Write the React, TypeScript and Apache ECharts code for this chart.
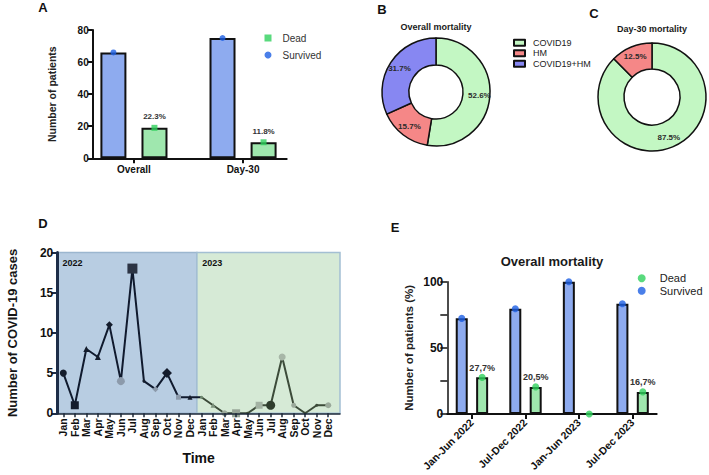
import React, { useEffect, useRef } from "react";
import * as echarts from "echarts";

const FONT = "'Liberation Sans', Arial, Helvetica, sans-serif";

// A: patient outcomes
const outcomeGroups = ["Overall", "Day-30"];
const survivedCounts = [66, 75];
const deadCounts = [19, 10];
const deadShareLabels = ["22.3%", "11.8%"];

// B / C: cause of death shares (%)
const causeNames = ["COVID19", "HM", "COVID19+HM"];
const overallMortalityShare = [52.6, 15.7, 31.7];
const day30MortalityShare = [87.5, 12.5];

// D: monthly COVID-19 cases
const monthLabels = ["Jan", "Feb", "Mar", "Apr", "May", "Jun", "Jul", "Aug", "Sep", "Oct", "Nov", "Dec"];
const cases2022 = [5, 1, 8, 7, 11, 4, 18, 4, 3, 5, 2, 2];
const cases2023 = [2, 1, 0, 0, 0, 1, 1, 7, 1, 0, 1, 1];
const yearLabels = ["2022", "2023"];

// E: overall mortality by half-year (%)
const periods = ["Jan-Jun 2022", "Jul-Dec 2022", "Jan-Jun 2023", "Jul-Dec 2023"];
const survivedPct = [72.3, 79.5, 100, 83.3];
const deadPct = [27.7, 20.5, 0, 16.7];
const deadPctLabels = ["27,7%", "20,5%", "", "16,7%"];

// colours
const BAR_BLUE = "#8eabef";
const BAR_GREEN = "#9fe7ae";
const DOT_BLUE = "#1d5fe3";
const DOT_GREEN = "#2fd15c";
const PIE_COLORS = ["#c3f7c3", "#f58787", "#8787f2"];
const INK = "#111";

// marker styles for the monthly series
type Mk = { symbol: string; size: number; color: string };
const markers2022: Mk[] = [
  { symbol: "circle", size: 7, color: "#141c2c" },
  { symbol: "rect", size: 8, color: "#141c2c" },
  { symbol: "triangle", size: 6, color: "#141c2c" },
  { symbol: "triangle", size: 6, color: "#141c2c" },
  { symbol: "diamond", size: 7, color: "#141c2c" },
  { symbol: "circle", size: 8, color: "#8c9aab" },
  { symbol: "rect", size: 10, color: "#2c3444" },
  { symbol: "circle", size: 3, color: "#141c2c" },
  { symbol: "diamond", size: 6, color: "#8c9aab" },
  { symbol: "diamond", size: 10, color: "#141c2c" },
  { symbol: "rect", size: 5, color: "#8c9aab" },
  { symbol: "triangle", size: 5, color: "#141c2c" },
];
const markers2023: Mk[] = [
  { symbol: "circle", size: 3, color: "#6f8a6f" },
  { symbol: "triangle", size: 5, color: "#7c927c" },
  { symbol: "circle", size: 6, color: "#9aa99a" },
  { symbol: "rect", size: 8, color: "#96a496" },
  { symbol: "circle", size: 3, color: "#3c4b39" },
  { symbol: "rect", size: 7, color: "#a3b2a3" },
  { symbol: "circle", size: 9, color: "#2f3d2d" },
  { symbol: "circle", size: 7, color: "#a7b6a7" },
  { symbol: "circle", size: 5, color: "#9aa99a" },
  { symbol: "circle", size: 3, color: "#3c4b39" },
  { symbol: "circle", size: 3, color: "#3c4b39" },
  { symbol: "circle", size: 6, color: "#9aa99a" },
];

// axis extents
const A_X = [-0.378, 1.4];
const D_X = [-0.52, 24.02];
const D_SPLIT = 11.6;
const E_X = [-0.46, 3.45];

const bold = (size: number, color = INK) => ({ fontFamily: FONT, fontWeight: "bold" as const, fontSize: size, color });

function buildOption(): any {
  const allMonths = [...monthLabels, ...monthLabels];
  const idx = (n: number) => Array.from({ length: n }, (_, i) => i);

  const line2022 = cases2022.map((v, i) => ({
    value: [i, v],
    symbol: markers2022[i].symbol,
    symbolSize: markers2022[i].size,
    itemStyle: { color: markers2022[i].color },
  }));
  line2022.push({ value: [12, cases2023[0]], symbol: "none", symbolSize: 0, itemStyle: { color: "#141c2c" } });

  const line2023 = cases2023.map((v, i) => ({
    value: [12 + i, v],
    symbol: markers2023[i].symbol,
    symbolSize: markers2023[i].size,
    itemStyle: { color: markers2023[i].color },
  }));

  const letter = (t: string, x: number, y: number) => ({
    type: "text",
    x,
    y,
    style: { text: t, fill: INK, align: "center", verticalAlign: "middle", font: `bold 13px ${FONT}` },
  });
  const heading = (t: string, x: number, y: number, size: number) => ({
    type: "text",
    x,
    y,
    style: { text: t, fill: "#1a1a1a", align: "center", verticalAlign: "middle", font: `bold ${size}px ${FONT}` },
  });

  const valueX = (grid: number, ext: number[], ticks: number[], fmt: (v: number) => string, label: any) => ({
    type: "value",
    gridIndex: grid,
    min: ext[0],
    max: ext[1],
    splitLine: { show: false },
    axisLine: { onZero: false, lineStyle: { color: INK, width: 2 } },
    axisTick: { customValues: ticks, length: 5, lineStyle: { color: INK, width: 2 } },
    axisLabel: { customValues: ticks, formatter: fmt, ...label },
  });

  return {
    animation: false,
    backgroundColor: "#fff",
    textStyle: { fontFamily: FONT },
    grid: [
      { left: 92.7, top: 30, width: 194, height: 128.3 },
      { left: 57.3, top: 252.5, width: 282.7, height: 160.8 },
      { left: 447.3, top: 281.7, width: 209.4, height: 132.3 },
    ],
    xAxis: [
      valueX(0, A_X, idx(outcomeGroups.length), (v) => outcomeGroups[v] ?? "", { ...bold(10), margin: 6 }),
      {
        ...valueX(1, D_X, idx(allMonths.length), (v) => allMonths[v] ?? "", { ...bold(10.5), rotate: 90, margin: 5 }),
        axisLine: { onZero: false, lineStyle: { color: "#1d2838", width: 1.5 } },
        axisTick: { customValues: idx(allMonths.length), length: 4, lineStyle: { color: "#1d2838", width: 1.5 } },
        name: "Time",
        nameLocation: "middle",
        nameGap: 38,
        nameTextStyle: bold(14),
        z: 10,
      },
      valueX(2, E_X, idx(periods.length), (v) => periods[v] ?? "", { ...bold(10.5), rotate: 45, margin: 7 }),
    ],
    yAxis: [
      {
        type: "value",
        gridIndex: 0,
        min: 0,
        max: 80,
        interval: 20,
        splitLine: { show: false },
        axisLine: { show: true, onZero: false, lineStyle: { color: INK, width: 2 } },
        axisTick: { show: true, length: 5, lineStyle: { color: INK, width: 2 } },
        axisLabel: { ...bold(10), margin: 4 },
        name: "Number of patients",
        nameLocation: "middle",
        nameGap: 35,
        nameTextStyle: bold(10.5, "#222"),
      },
      {
        type: "value",
        gridIndex: 1,
        min: 0,
        max: 20,
        interval: 5,
        z: 10,
        splitLine: { show: false },
        axisLine: { show: true, onZero: false, lineStyle: { color: "#1d2d48", width: 3 } },
        axisTick: { show: true, length: 6, lineStyle: { color: "#1d2d48", width: 2 } },
        axisLabel: { ...bold(12), margin: 4 },
        name: "Number of COVID-19 cases",
        nameLocation: "middle",
        nameGap: 38,
        nameTextStyle: bold(13, "#161616"),
      },
      {
        type: "value",
        gridIndex: 2,
        min: 0,
        max: 100,
        interval: 25,
        splitLine: { show: false },
        axisLine: { show: true, onZero: false, lineStyle: { color: INK, width: 1.5 } },
        axisTick: { show: true, length: 7, lineStyle: { color: INK, width: 1.5 } },
        axisLabel: { ...bold(12), margin: 4, formatter: (v: number) => (v % 50 === 0 ? String(v) : "") },
        name: "Number of patients (%)",
        nameLocation: "middle",
        nameGap: 32,
        nameTextStyle: bold(11.5, "#222"),
      },
    ],
    legend: [
      {
        data: [
          { name: "Dead", icon: "rect" },
          { name: "Survived", icon: "circle" },
        ],
        orient: "vertical",
        left: 264.5,
        top: 32,
        padding: 0,
        itemWidth: 7,
        itemHeight: 7,
        itemGap: 5,
        selectedMode: false,
        textStyle: { fontFamily: FONT, fontSize: 10, color: "#333", lineHeight: 12, padding: [0, 0, 0, 6] },
      },
      {
        data: causeNames.map((n) => ({ name: n, icon: "rect" })),
        orient: "vertical",
        left: 513,
        top: 37.5,
        padding: 0,
        itemWidth: 11,
        itemHeight: 6,
        itemGap: 0,
        selectedMode: false,
        textStyle: { fontFamily: FONT, fontSize: 9, color: "#222", lineHeight: 10.5, padding: [0, 0, 0, 3] },
      },
      {
        data: [
          { name: "Dead", icon: "circle" },
          { name: "Survived", icon: "circle" },
        ],
        orient: "vertical",
        left: 637.7,
        top: 272.3,
        padding: 0,
        itemWidth: 8,
        itemHeight: 8,
        itemGap: 0.4,
        selectedMode: false,
        textStyle: { fontFamily: FONT, fontSize: 11, color: "#222", lineHeight: 12, padding: [0, 0, 0, 9] },
      },
    ],
    graphic: [
      letter("A", 43, 7),
      letter("B", 382, 9),
      letter("C", 594, 13),
      letter("D", 43, 223),
      letter("E", 395, 227),
      heading("Overall mortality", 436, 27, 9),
      heading("Day-30 mortality", 652, 29, 9),
      heading("Overall mortality", 552, 261, 13),
    ],
    series: [
      // A
      {
        type: "scatter",
        name: "Survived",
        xAxisIndex: 0,
        yAxisIndex: 0,
        data: survivedCounts.map((v, i) => [i, v]),
        symbol: "circle",
        symbolSize: 6,
        symbolOffset: [-20.5, 0],
        itemStyle: { color: DOT_BLUE },
        z: 5,
      },
      {
        type: "scatter",
        name: "Dead",
        xAxisIndex: 0,
        yAxisIndex: 0,
        data: deadCounts.map((v, i) => [i, v]),
        symbol: "rect",
        symbolSize: 6,
        symbolOffset: [20.5, 0],
        itemStyle: { color: DOT_GREEN },
        z: 5,
      },
      {
        type: "bar",
        name: "Survived patients",
        xAxisIndex: 0,
        yAxisIndex: 0,
        data: survivedCounts.map((v, i) => [i, v]),
        barWidth: 26,
        barGap: "58%",
        itemStyle: { color: BAR_BLUE, borderColor: INK, borderWidth: 2 },
      },
      {
        type: "bar",
        name: "Dead patients",
        xAxisIndex: 0,
        yAxisIndex: 0,
        data: deadCounts.map((v, i) => [i, v]),
        barWidth: 26,
        barGap: "58%",
        itemStyle: { color: BAR_GREEN, borderColor: INK, borderWidth: 2 },
        label: {
          show: true,
          position: "top",
          distance: 7,
          formatter: (p: any) => deadShareLabels[p.dataIndex],
          ...bold(8, "#333"),
        },
      },
      // B
      {
        type: "pie",
        center: [436, 92],
        radius: [27, 54],
        startAngle: 90,
        clockwise: true,
        avoidLabelOverlap: false,
        silent: true,
        itemStyle: { borderColor: INK, borderWidth: 1.5 },
        label: { show: true, position: "inside", formatter: "{c}%", ...bold(8, "#2b2b2b") },
        labelLine: { show: false },
        data: causeNames.map((n, i) => ({ name: n, value: overallMortalityShare[i], itemStyle: { color: PIE_COLORS[i] } })),
      },
      // C
      {
        type: "pie",
        center: [652, 97],
        radius: [28, 54],
        startAngle: 90,
        clockwise: true,
        avoidLabelOverlap: false,
        silent: true,
        itemStyle: { borderColor: INK, borderWidth: 1.5 },
        label: { show: true, position: "inside", formatter: "{c}%", ...bold(8, "#2b2b2b") },
        labelLine: { show: false },
        data: day30MortalityShare.map((v, i) => ({ name: causeNames[i], value: v, itemStyle: { color: PIE_COLORS[i] } })),
      },
      // D
      {
        type: "line",
        name: "Cases 2022",
        xAxisIndex: 1,
        yAxisIndex: 1,
        data: line2022,
        lineStyle: { color: "#101a2e", width: 2 },
        z: 3,
        markArea: {
          silent: true,
          data: [
            [
              {
                xAxis: D_X[0],
                yAxis: 0,
                itemStyle: { color: "#b8cde2", borderColor: "#9bb6cf", borderWidth: 1.5 },
                label: { show: true, position: "insideTopLeft", formatter: yearLabels[0], offset: [1, 2], ...bold(9) },
              },
              { xAxis: D_SPLIT, yAxis: 20 },
            ],
            [
              {
                xAxis: D_SPLIT,
                yAxis: 0,
                itemStyle: { color: "#d6ead6", borderColor: "#a3bfd3", borderWidth: 1.5 },
                label: { show: true, position: "insideTopLeft", formatter: yearLabels[1], offset: [1, 2], ...bold(9) },
              },
              { xAxis: D_X[1], yAxis: 20 },
            ],
          ],
        },
      },
      {
        type: "line",
        name: "Cases 2023",
        xAxisIndex: 1,
        yAxisIndex: 1,
        data: line2023,
        lineStyle: { color: "#3c4b39", width: 2 },
        z: 3,
      },
      // E
      {
        type: "scatter",
        name: "Survived",
        xAxisIndex: 2,
        yAxisIndex: 2,
        data: survivedPct.map((v, i) => [i, v]),
        symbol: "circle",
        symbolSize: 7,
        symbolOffset: [-10.2, 0],
        itemStyle: { color: DOT_BLUE },
        z: 5,
      },
      {
        type: "scatter",
        name: "Dead",
        xAxisIndex: 2,
        yAxisIndex: 2,
        data: deadPct.map((v, i) => [i, v]),
        symbol: "circle",
        symbolSize: 7,
        symbolOffset: [10.2, 0],
        itemStyle: { color: DOT_GREEN },
        z: 5,
      },
      {
        type: "bar",
        name: "Survived share",
        xAxisIndex: 2,
        yAxisIndex: 2,
        data: survivedPct.map((v, i) => [i, v]),
        barWidth: 12,
        barGap: "70%",
        itemStyle: { color: BAR_BLUE, borderColor: INK, borderWidth: 2 },
      },
      {
        type: "bar",
        name: "Dead share",
        xAxisIndex: 2,
        yAxisIndex: 2,
        data: deadPct.map((v, i) => ({ value: [i, v], itemStyle: v === 0 ? { borderWidth: 0 } : undefined })),
        barWidth: 12,
        barGap: "70%",
        itemStyle: { color: BAR_GREEN, borderColor: INK, borderWidth: 2 },
        label: {
          show: true,
          position: "top",
          distance: 5,
          formatter: (p: any) => deadPctLabels[p.dataIndex],
          ...bold(9, "#333"),
        },
      },
    ],
  };
}

export default function App() {
  const ref = useRef<HTMLDivElement>(null);
  useEffect(() => {
    if (!ref.current) return;
    const chart = echarts.init(ref.current, undefined, { renderer: "svg" });
    chart.setOption(buildOption());
    return () => chart.dispose();
  }, []);
  return (
    <div
      ref={ref}
      style={{ position: "fixed", left: 0, top: 0, width: 709, height: 475, background: "#fff" }}
    />
  );
}
